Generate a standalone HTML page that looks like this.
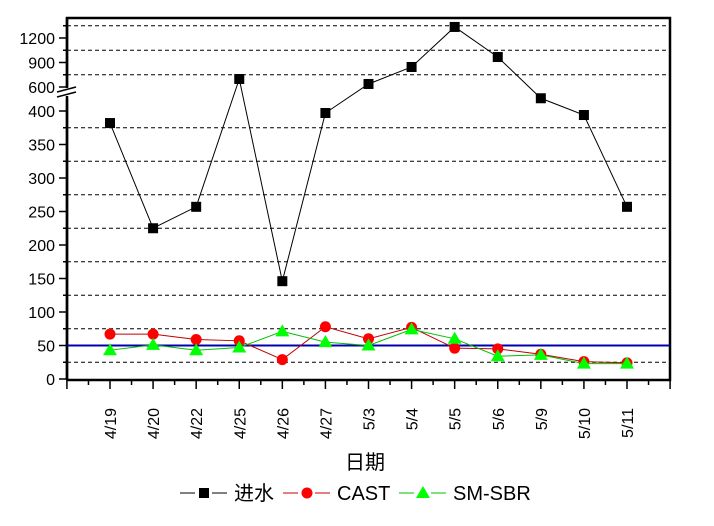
<!DOCTYPE html>
<html><head><meta charset="utf-8"><style>
body{margin:0;background:#fff}
svg{display:block;font-family:"Liberation Sans","Noto Sans CJK SC",sans-serif}
</style></head><body>
<svg id="c" width="714" height="526"></svg>
<script>
const categories=["4/19","4/20","4/22","4/25","4/26","4/27","5/3","5/4","5/5","5/6","5/9","5/10","5/11"];
const influent=[382,225,257,698,146,397,637,845,1335,967,419,394,257];
const cast=[67,67,59,57,29,78,60,77,46,45,37,26,24];
const smsbr=[43,51,43,47,71,55,50,74,60,34,36,23,23];
const lowerTicks=[0,50,100,150,200,250,300,350,400];
const upperTicks=[600,900,1200];
const standard=50;

const NS="http://www.w3.org/2000/svg";
const svg=document.getElementById('c');
function mk(t,a,p){const e=document.createElementNS(NS,t);for(const k in a)e.setAttribute(k,a[k]);(p||svg).appendChild(e);return e;}
const L=67,R=670,T=18,B=380,BREAK=93;
function xs(i){return 110+i*((627-110)/12);}
function ys(v){return v<=500?379-v*0.67:87-(v-600)*0.0817;}

const grid=mk('g',{});


[25,75,125,175,225,275,325,375,750,1050,1350].forEach(v=>{
  mk('line',{x1:L,x2:R,y1:ys(v),y2:ys(v),stroke:'#000','stroke-width':1,'stroke-dasharray':'4,3'},grid);
});
const fr=mk('path',{d:`M${L},${B}V${T}H${R}V${B}H${L}`,fill:'none',stroke:'#000','stroke-width':2.5});


mk('rect',{x:L-10,y:BREAK-6,width:14,height:12,fill:'#fff'});
mk('line',{x1:L-10,y1:BREAK-1,x2:L+9,y2:BREAK-6,stroke:'#000','stroke-width':1.5});
mk('line',{x1:L-10,y1:BREAK+4,x2:L+9,y2:BREAK-1,stroke:'#000','stroke-width':1.5});
mk('line',{x1:L,y1:T,x2:L,y2:BREAK-5,stroke:'#000','stroke-width':2.5});
mk('line',{x1:L,y1:BREAK+3,x2:L,y2:B,stroke:'#000','stroke-width':2.5});

const ya=mk('g',{});


lowerTicks.concat(upperTicks).forEach(v=>{
  const y=ys(v);
  mk('line',{x1:L-8,x2:L,y1:y,y2:y,stroke:'#000','stroke-width':1.5},ya);
  const t=mk('text',{x:L-12,y:y+6,'text-anchor':'end','font-size':16},ya);t.textContent=v;
  
  
});
[25,75,125,175,225,275,325,375,750,1050,1350].forEach(v=>{mk('line',{x1:L-4,x2:L,y1:ys(v),y2:ys(v),stroke:'#000','stroke-width':1.5},ya);});

const xa=mk('g',{});


for(let i=-1;i<=13;i++){mk('line',{x1:xs(i),x2:xs(i),y1:B,y2:B+9,stroke:'#000','stroke-width':1.5},xa);}
for(let i=-1;i<13;i++){const x=(xs(i)+xs(i+1))/2;mk('line',{x1:x,x2:x,y1:B,y2:B+5,stroke:'#000','stroke-width':1.5},xa);}
categories.forEach((c,i)=>{
  const t=mk('text',{transform:`translate(${xs(i)+6},408) rotate(-90)`,'text-anchor':'end','font-size':16},xa);t.textContent=c;
  
  
});
const xt=mk('text',{x:365,y:469,'text-anchor':'middle','font-size':20});xt.textContent='日期';



const sl=mk('line',{x1:L,x2:R,y1:ys(standard),y2:ys(standard),stroke:'#0000b0','stroke-width':2});



function series(vals,color,shape,name){
  const g=mk('g',{});
  
  
  mk('polyline',{points:vals.map((v,i)=>xs(i)+','+ys(v)).join(' '),fill:'none',stroke:color,'stroke-width':1},g);
  vals.forEach((v,i)=>{
    const x=xs(i),y=ys(v);let m;
    if(shape==='sq')m=mk('rect',{x:x-5,y:y-5,width:10,height:10,fill:'#000'},g);
    else if(shape==='ci')m=mk('circle',{cx:x,cy:y,r:5.5,fill:'#f00'},g);
    else m=mk('path',{d:`M${x},${y-7}L${x+7},${y+5}L${x-7},${y+5}Z`,fill:'#0f0'},g);
    
    
  });
}
series(influent,'#000','sq','series-influent');
series(cast,'#c00000','ci','series-cast');
series(smsbr,'#00c000','tr','series-sm-sbr');

const lg=mk('g',{});


const ly=493;
[[180,'#000','sq','进水'],[283,'#c00000','ci','CAST'],[399,'#00c000','tr','SM-SBR']].forEach(([x0,c,s,lab])=>{
  mk('line',{x1:x0,x2:x0+15,y1:ly,y2:ly,stroke:c,'stroke-width':1},lg);
  mk('line',{x1:x0+32,x2:x0+47,y1:ly,y2:ly,stroke:c,'stroke-width':1},lg);
  const mx=x0+24;
  if(s==='sq')mk('rect',{x:mx-5,y:ly-5,width:10,height:10,fill:'#000'},lg);
  else if(s==='ci')mk('circle',{cx:mx,cy:ly,r:5.5,fill:'#f00'},lg);
  else mk('path',{d:`M${mx},${ly-7}L${mx+7},${ly+5}L${mx-7},${ly+5}Z`,fill:'#0f0'},lg);
  const t=mk('text',{x:x0+54,y:ly+7,'font-size':20},lg);t.textContent=lab;
  
  
});
</script>
</body></html>
